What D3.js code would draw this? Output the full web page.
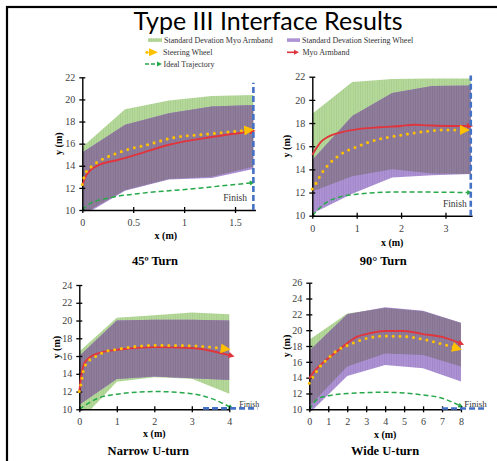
<!DOCTYPE html>
<html>
<head>
<meta charset="utf-8">
<script src="https://cdn.jsdelivr.net/npm/d3@7"></script>
<style>
body { margin: 0; background: #fff; }
svg { display: block; }
svg text { font-family: "Liberation Serif", "Times New Roman", "DejaVu Serif", serif; }
svg text.title { font-family: Lato, "Open Sans", sans-serif; }
</style>
</head>
<body>
<div id="chart"></div>
<script>
// ---- data ----
// 45 degree turn
var t45_bandX = [0, 0.42, 0.85, 1.27, 1.68];
var t45_myoHi = [15.7, 19.1, 19.9, 20.3, 20.4];
var t45_myoLo = [9.6, 11.8, 12.8, 13.0, 13.9];
var t45_swHi = [15.2, 17.7, 18.75, 19.35, 19.5];
var t45_swLo = [9.45, 11.75, 12.75, 12.9, 13.7];
var t45_myo = [[0,12.2],[0.03,13.0],[0.08,13.6],[0.17,14.1],[0.34,14.5],[0.53,15.0],[0.85,15.9],[1.27,16.6],[1.65,17.1]];
var t45_sw = [[0,12.3],[0.03,13.3],[0.1,14.0],[0.2,14.6],[0.33,15.1],[0.46,15.5],[0.66,15.95],[0.85,16.45],[1.27,16.9],[1.6,17.2]];
var t45_ideal = [[0,10],[0.08,10.6],[0.24,11.05],[0.57,11.5],[1.06,11.9],[1.65,12.45]];
var t45_finish = [[1.68,10],[1.68,21.5]];
var t45_xTicks = [0, 0.5, 1, 1.5];
var t45_yTicks = [10, 12, 14, 16, 18, 20, 22];

// 90 degree turn
var t90_bandX = [0, 0.9, 1.8, 2.7, 3.57];
var t90_myoHi = [18.8, 21.55, 21.8, 21.85, 21.85];
var t90_myoLo = [12.1, 13.4, 14.0, 13.65, 13.6];
var t90_swHi = [14.8, 18.6, 20.6, 21.2, 21.25];
var t90_swLo = [10.2, 11.9, 13.3, 13.5, 13.6];
var t90_myo = [[0,15.25],[0.2,16.4],[0.35,16.8],[0.6,17.15],[1.0,17.45],[1.5,17.63],[2.0,17.75],[2.3,17.85],[2.6,17.8],[3.0,17.75],[3.5,17.75]];
var t90_sw = [[0,12.3],[0.1,12.9],[0.2,13.6],[0.35,14.35],[0.6,15.2],[1.0,15.95],[1.5,16.6],[2.0,16.95],[2.5,17.25],[3.0,17.4],[3.35,17.4]];
var t90_ideal = [[0,10],[0.3,11.1],[0.6,11.6],[1.0,11.85],[2.0,12.05],[3.5,12.0]];
var t90_finish = [[3.57,10],[3.57,22.1]];
var t90_xTicks = [0, 1, 2, 3];
var t90_yTicks = [10, 12, 14, 16, 18, 20, 22];

// narrow U-turn
var nu_bandX = [0, 1, 2, 3, 4];
var nu_myoHi = [16.5, 20.3, 20.6, 20.9, 20.7];
var nu_myoLo = [8.6, 13.1, 13.6, 13.45, 11.75];
var nu_swHi = [16.0, 20.0, 20.1, 20.1, 20.0];
var nu_swLo = [10.5, 13.4, 13.7, 13.5, 13.3];
var nu_myo = [[0,12.0],[0.05,13.7],[0.1,14.8],[0.2,15.55],[0.5,16.3],[1.0,16.7],[2.0,17.0],[3.0,16.9],[3.5,16.6],[4.0,16.1]];
var nu_sw = [[0,12.0],[0.05,12.9],[0.1,14.2],[0.2,15.2],[0.4,15.85],[0.7,16.5],[1.0,16.75],[2.0,17.2],[3.0,17.15],[3.5,17.0],[3.8,16.85]];
var nu_ideal = [[0,10],[0.5,11.25],[1,11.7],[2,12.0],[3,11.75],[3.5,11.25],[4.0,10.3]];
var nu_finish = [[3.3,10.1],[4.75,10.1]];
var nu_xTicks = [0, 1, 2, 3, 4];
var nu_yTicks = [10, 12, 14, 16, 18, 20, 22, 24];

// wide U-turn
var wu_bandX = [0, 2, 4, 6, 8];
var wu_myoHi = [18.8, 22.1, 22.8, 22.4, 20.9];
var wu_myoLo = [10.4, 15.4, 17.05, 16.85, 15.4];
var wu_swHi = [17.4, 22.0, 22.9, 22.45, 20.95];
var wu_swLo = [9.5, 14.2, 15.6, 15.2, 13.5];
var wu_myo = [[0,13.9],[0.25,14.75],[0.5,15.4],[1,16.45],[1.5,17.4],[2,18.35],[2.5,19.15],[3,19.5],[4,19.9],[5,19.9],[6,19.5],[7,19.15],[7.9,18.4]];
var wu_sw = [[0,13.3],[0.2,14.1],[0.5,15.2],[1,16.45],[1.5,17.5],[2,18.05],[3,18.95],[4,19.25],[5,19.2],[6,18.85],[7,18.25],[7.6,17.85]];
var wu_ideal = [[0,10],[0.5,11.4],[1,11.7],[2,12.0],[4,12.15],[6,11.8],[7,11.4],[7.9,10.5]];
var wu_finish = [[7,10.1],[9.35,10.1]];
var wu_xTicks = [0, 1, 2, 3, 4, 5, 6, 7, 8];
var wu_yTicks = [10, 12, 14, 16, 18, 20, 22, 24, 26];

var legendLabels = ['Standard Devation Myo Armband', 'Standard Devation Steering Wheel',
  'Steering Wheel', 'Myo Armband', 'Ideal Trajectory'];

// ---- colours ----
var C = {
  myoBand: '#b6d89c', myoStripe: '#a6ce89',
  swBand: '#ad93d3', swStripe: '#9f84c8',
  both: '#8f7d9c', bothStripe: '#84718f',
  red: '#e0353d', orange: '#ffc000', ideal: '#27a84a', finish: '#4472c4'
};

var W = 497, H = 461;
var svg = d3.select('#chart').append('svg').attr('width', W).attr('height', H);
var defs = svg.append('defs');

function stripes(id, base, line) {
  var p = defs.append('pattern').attr('id', id)
    .attr('patternUnits', 'userSpaceOnUse').attr('width', 2.4).attr('height', 8);
  p.append('rect').attr('width', 2.4).attr('height', 8).attr('fill', base);
  p.append('rect').attr('width', 0.8).attr('height', 8).attr('fill', line);
}
stripes('stripeMyo', C.myoBand, C.myoStripe);
stripes('stripeSw', C.swBand, C.swStripe);
stripes('stripeBoth', C.both, C.bothStripe);

function marker(id, color, w, h) {
  defs.append('marker').attr('id', id)
    .attr('viewBox', '0 0 10 10').attr('refX', 1).attr('refY', 5)
    .attr('markerUnits', 'userSpaceOnUse')
    .attr('markerWidth', w).attr('markerHeight', h)
    .attr('orient', 'auto')
    .append('path').attr('d', 'M0,0L10,5L0,10Z').attr('fill', color);
}
marker('arrRed', C.red, 7, 6);
marker('arrOrange', C.orange, 12, 10);
marker('arrGreen', C.ideal, 6, 5);

// frame
svg.append('rect').attr('x', 7).attr('y', 7).attr('width', W + 20).attr('height', H + 20)
  .attr('fill', 'none').attr('stroke', '#000').attr('stroke-width', 2.2);

// title
svg.append('text').attr('class', 'title').attr('x', 268).attr('y', 30).attr('text-anchor', 'middle')
  .style('font-size', '25px')
  .text('Type III Interface Results');

// legend
var leg = svg.append('g').style('font-size', '8px');
leg.append('rect').attr('x', 148).attr('y', 38.3).attr('width', 14).attr('height', 3.6).attr('fill', 'url(#stripeMyo)');
leg.append('rect').attr('x', 287).attr('y', 38.3).attr('width', 13).attr('height', 3.6).attr('fill', C.swBand);
leg.append('circle').attr('cx', 147).attr('cy', 52.3).attr('r', 1.6).attr('fill', C.orange);
leg.append('path').attr('d', 'M149,48.3L158,52.3L149,56.3Z').attr('fill', C.orange);
leg.append('line').attr('x1', 287).attr('x2', 294).attr('y1', 52.3).attr('y2', 52.3)
  .attr('stroke', C.red).attr('stroke-width', 1.6);
leg.append('path').attr('d', 'M294,49.8L299,52.3L294,54.8Z').attr('fill', C.red);
leg.append('line').attr('x1', 145).attr('x2', 157).attr('y1', 64).attr('y2', 64)
  .attr('stroke', C.ideal).attr('stroke-width', 1.6).attr('stroke-dasharray', '4,2');
leg.append('path').attr('d', 'M157,61.5L162,64L157,66.5Z').attr('fill', C.ideal);
var legPos = [[164, 42.7], [302, 42.7], [163, 55], [302.5, 55], [163.5, 66.7]];
leg.selectAll('text.leg').data(legendLabels).enter().append('text')
  .attr('x', function(d, i) { return legPos[i][0]; })
  .attr('y', function(d, i) { return legPos[i][1]; })
  .attr('fill', '#333')
  .text(function(d) { return d; });

// ---- panels ----
var panels = [
  { key: 'a', title: '45º Turn', xDom: [0, 1.7], yDom: [10, 22], left: 82.3, right: 255.4, top: 77.3, bottom: 210,
    bandX: t45_bandX, myoHi: t45_myoHi, myoLo: t45_myoLo, swHi: t45_swHi, swLo: t45_swLo,
    myo: t45_myo, sw: t45_sw, ideal: t45_ideal, finish: t45_finish, xTicks: t45_xTicks, yTicks: t45_yTicks,
    titlePos: [155, 264.5], xLabY: 238.5, yLabX: 58.3, finishLab: [247, 200.5, 'end', 9.5] },
  { key: 'b', title: '90° Turn', xDom: [0, 3.6], yDom: [10, 22], left: 312.3, right: 472.1, top: 76.7, bottom: 215.7,
    bandX: t90_bandX, myoHi: t90_myoHi, myoLo: t90_myoLo, swHi: t90_swHi, swLo: t90_swLo,
    myo: t90_myo, sw: t90_sw, ideal: t90_ideal, finish: t90_finish, xTicks: t90_xTicks, yTicks: t90_yTicks,
    titlePos: [383.3, 264.5], xLabY: 245.8, yLabX: 286, finishLab: [466.7, 206.5, 'end', 9.5] },
  { key: 'c', title: 'Narrow U-turn', xDom: [0, 4], yDom: [10, 24], left: 79.3, right: 229.3, top: 285, bottom: 409.3,
    bandX: nu_bandX, myoHi: nu_myoHi, myoLo: nu_myoLo, swHi: nu_swHi, swLo: nu_swLo,
    myo: nu_myo, sw: nu_sw, ideal: nu_ideal, finish: nu_finish, xTicks: nu_xTicks, yTicks: nu_yTicks,
    titlePos: [148.3, 454.5], xLabY: 436.8, yLabX: 56, finishLab: [239.3, 406.5, 'start', 8] },
  { key: 'd', title: 'Wide U-turn', xDom: [0, 8], yDom: [10, 26], left: 309.3, right: 461, top: 282.7, bottom: 409.3,
    bandX: wu_bandX, myoHi: wu_myoHi, myoLo: wu_myoLo, swHi: wu_swHi, swLo: wu_swLo,
    myo: wu_myo, sw: wu_sw, ideal: wu_ideal, finish: wu_finish, xTicks: wu_xTicks, yTicks: wu_yTicks,
    titlePos: [385, 454.5], xLabY: 437.5, yLabX: 286, finishLab: [464.3, 406.5, 'start', 9] }
];

panels.forEach(drawPanel);

function drawPanel(p) {
  var x = d3.scaleLinear().domain(p.xDom).range([p.left, p.right]);
  var y = d3.scaleLinear().domain(p.yDom).range([p.bottom, p.top]);
  var g = svg.append('g').attr('class', 'panel-' + p.key);

  function band(hi, lo) {
    return d3.area()
      .x(function(d, i) { return x(p.bandX[i]); })
      .y0(function(d, i) { return y(lo[i]); })
      .y1(function(d, i) { return y(hi[i]); })(hi);
  }

  defs.append('clipPath').attr('id', 'clip' + p.key).append('rect')
    .attr('x', p.left).attr('y', p.top - 2)
    .attr('width', x(p.bandX[p.bandX.length - 1]) - p.left + 1)
    .attr('height', p.bottom - p.top + 2);
  // the myo band shape, used to find where both bands overlap
  defs.append('clipPath').attr('id', 'myoClip' + p.key).append('path')
    .attr('d', band(p.myoHi, p.myoLo));

  var bands = g.append('g').attr('clip-path', 'url(#clip' + p.key + ')');
  bands.append('path').attr('d', band(p.myoHi, p.myoLo)).attr('fill', 'url(#stripeMyo)');
  bands.append('path').attr('d', band(p.swHi, p.swLo)).attr('fill', 'url(#stripeSw)');
  bands.append('g').attr('clip-path', 'url(#myoClip' + p.key + ')')
    .append('path').attr('d', band(p.swHi, p.swLo)).attr('fill', 'url(#stripeBoth)');

  var line = d3.line()
    .x(function(d) { return x(d[0]); })
    .y(function(d) { return y(d[1]); })
    .curve(d3.curveMonotoneX);

  g.append('path').datum(p.ideal).attr('d', line)
    .attr('fill', 'none').attr('stroke', C.ideal).attr('stroke-width', 1.5)
    .attr('stroke-dasharray', '5,3').attr('marker-end', 'url(#arrGreen)');

  // axes
  var xa = d3.axisBottom(x).tickValues(p.xTicks).tickSize(3).tickSizeOuter(0).tickPadding(6)
    .tickFormat(d3.format('~g'));
  var ya = d3.axisLeft(y).tickValues(p.yTicks).tickSize(3).tickSizeOuter(0).tickPadding(4);
  function styleAxis(s) {
    s.attr('font-family', null).attr('font-size', null);
    s.select('.domain').attr('stroke', '#000').attr('stroke-width', 1.4);
    s.selectAll('.tick line').attr('stroke', '#000').attr('stroke-width', 1.3);
    s.selectAll('.tick text').attr('fill', '#404040').style('font-size', '10px');
  }
  g.append('g').attr('transform', 'translate(0,' + p.bottom + ')').call(xa).call(styleAxis)
    .call(function(s) { s.selectAll('.tick line').attr('y1', -3); });
  g.append('g').attr('transform', 'translate(' + p.left + ',0)').call(ya).call(styleAxis)
    .call(function(s) { s.selectAll('.tick line').attr('x1', 3); });

  // traces
  g.append('path').datum(p.myo).attr('d', line)
    .attr('fill', 'none').attr('stroke', C.red).attr('stroke-width', 1.9)
    .attr('marker-end', 'url(#arrRed)');
  g.append('path').datum(p.sw).attr('d', line)
    .attr('fill', 'none').attr('stroke', C.orange).attr('stroke-width', 3.1)
    .attr('stroke-linecap', 'round').attr('stroke-dasharray', '0,6.8')
    .attr('marker-end', 'url(#arrOrange)');

  // finish line
  g.append('line')
    .attr('x1', x(p.finish[0][0])).attr('y1', y(p.finish[0][1]))
    .attr('x2', x(p.finish[1][0])).attr('y2', y(p.finish[1][1]))
    .attr('stroke', C.finish).attr('stroke-width', 2.6).attr('stroke-dasharray', '6,3');
  g.append('text').attr('x', p.finishLab[0]).attr('y', p.finishLab[1])
    .attr('text-anchor', p.finishLab[2]).style('font-size', p.finishLab[3] + 'px')
    .attr('fill', '#333').text('Finish');

  // labels
  g.append('text').attr('x', (p.left + p.right) / 2 + (p.key === 'a' ? -3 : 0)).attr('y', p.xLabY)
    .attr('text-anchor', 'middle').style('font-size', '10px').style('font-weight', 'bold')
    .text('x (m)');
  g.append('text').attr('transform', 'translate(' + p.yLabX + ',' + ((p.top + p.bottom) / 2) + ') rotate(-90)')
    .attr('text-anchor', 'middle').attr('dy', '0.35em')
    .style('font-size', '10px').style('font-weight', 'bold')
    .text('y (m)');
  g.append('text').attr('x', p.titlePos[0]).attr('y', p.titlePos[1])
    .attr('text-anchor', 'middle').style('font-size', '12.5px').style('font-weight', 'bold')
    .text(p.title);
}
</script>
</body>
</html>
